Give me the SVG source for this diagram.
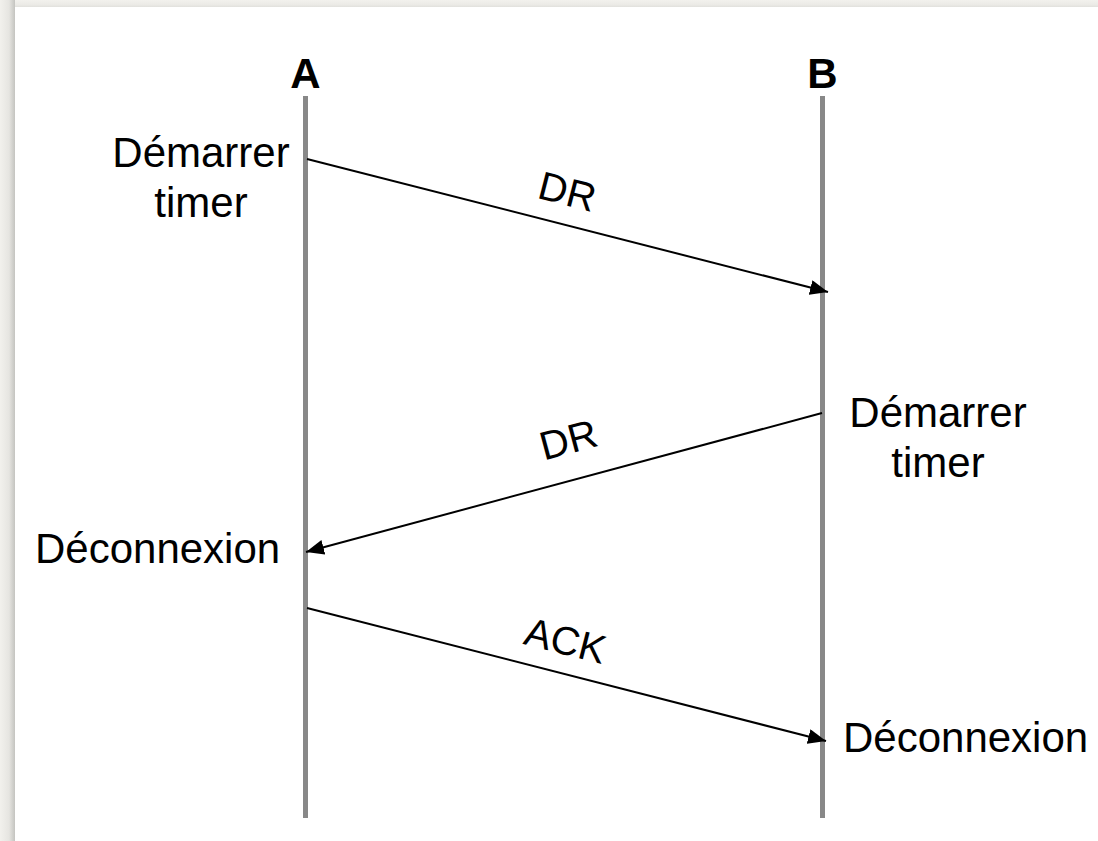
<svg xmlns="http://www.w3.org/2000/svg" width="1098" height="841" viewBox="0 0 1098 841">
  <defs>
    <linearGradient id="shL" x1="0" y1="0" x2="1" y2="0">
      <stop offset="0" stop-color="#f2f1ed"/>
      <stop offset="0.6" stop-color="#e6e5e1"/>
      <stop offset="1" stop-color="#c4c4c0"/>
    </linearGradient>
    <linearGradient id="shT" x1="0" y1="0" x2="0" y2="1">
      <stop offset="0" stop-color="#f2f1ed"/>
      <stop offset="0.6" stop-color="#ebeae6"/>
      <stop offset="1" stop-color="#dcdcd8"/>
    </linearGradient>
    <marker id="ah" markerUnits="userSpaceOnUse" markerWidth="20" markerHeight="16" refX="18" refY="7.5" orient="auto">
      <path d="M0,0 L18,7.5 L0,15 z" fill="#000"/>
    </marker>
    <style>
      .life { stroke: #888888; stroke-width: 5; fill: none; }
      .msg { stroke: #000; stroke-width: 2; fill: none; marker-end: url(#ah); }
      .lbl { font-family: "Liberation Sans", Arial, Helvetica, sans-serif; font-size: 42px; fill: #000; }
      .hd { font-family: "Liberation Sans", Arial, Helvetica, sans-serif; font-size: 42px; font-weight: bold; fill: #000; text-anchor: middle; }
      .mlbl { font-family: "Liberation Sans", Arial, Helvetica, sans-serif; font-size: 40px; fill: #000; text-anchor: middle; }
    </style>
  </defs>
  <rect x="0" y="0" width="1098" height="841" fill="#f2f1ed"/>
  <rect x="0" y="0" width="1098" height="8" fill="url(#shT)"/>
  <rect x="0" y="0" width="15" height="841" fill="url(#shL)"/>
  <rect x="15" y="7" width="1083" height="834" fill="#ffffff"/>

  <g id="lifelineA">
    <text class="hd" x="305.5" y="88">A</text>
    <line class="life" x1="305.5" y1="96" x2="305.5" y2="818"/>
  </g>
  <g id="lifelineB">
    <text class="hd" x="822.5" y="88">B</text>
    <line class="life" x1="822.5" y1="96" x2="822.5" y2="818"/>
  </g>

  <g id="noteA1">
    <text class="lbl" text-anchor="middle" x="201" y="167">Démarrer</text>
    <text class="lbl" text-anchor="middle" x="201" y="217">timer</text>
  </g>
  <g id="noteB1">
    <text class="lbl" text-anchor="middle" x="938" y="427">Démarrer</text>
    <text class="lbl" text-anchor="middle" x="938" y="477">timer</text>
  </g>
  <g id="noteA2">
    <text class="lbl" x="35" y="563">Déconnexion</text>
  </g>
  <g id="noteB2">
    <text class="lbl" x="843" y="752">Déconnexion</text>
  </g>

  <g id="connectors">
    <line class="msg" x1="307" y1="159" x2="828" y2="292"/>
    <line class="msg" x1="822" y1="413" x2="306" y2="552"/>
    <line class="msg" x1="307" y1="608" x2="826" y2="741"/>
    <text class="mlbl" transform="translate(564,205) rotate(14.3)">DR</text>
    <text class="mlbl" transform="translate(572,453) rotate(-15)">DR</text>
    <text class="mlbl" transform="translate(562,654) rotate(14.3)">ACK</text>
  </g>
</svg>
